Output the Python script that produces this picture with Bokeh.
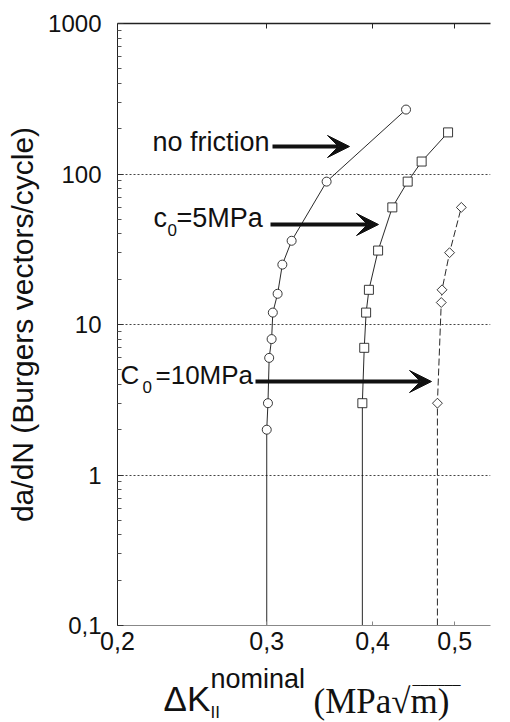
import math
from bokeh.plotting import figure
from bokeh.layouts import column
from bokeh.models import (Label, Arrow, VeeHead, FixedTicker, Range1d,
                          CustomJSTickFormatter, LogAxis)
from bokeh.embed import file_html
from bokeh.resources import INLINE

# ---------------- data ----------------
nofric_x = [0.300, 0.301, 0.302, 0.304, 0.305, 0.309, 0.313, 0.321, 0.353, 0.438]
nofric_y = [2, 3, 6, 8, 12, 16, 25, 36, 89, 268]

c5_x = [0.389, 0.391, 0.393, 0.396, 0.406, 0.422, 0.440, 0.457, 0.491]
c5_y = [3, 7, 12, 17, 31, 60, 89, 121, 189]

c10_x = [0.477, 0.482, 0.483, 0.493, 0.509]
c10_y = [3, 14, 17, 30, 60]

thresholds = [0.300, 0.389, 0.477]   # vertical asymptotes of the curves
floor_y = 0.1

x_ticks = [0.2, 0.3, 0.4, 0.5]
y_ticks = [0.1, 1, 10, 100, 1000]
y_minor = [m * 10 ** k for k in range(-1, 3) for m in range(2, 10)]
grid_ticks = [1, 10, 100]

x_start, x_end = 0.2, 0.551
y_start, y_end = 0.1, 1000

W = 510
H_MAIN = 665
H_TITLE = 57
FRAME_TOP, FRAME_BOTTOM, FRAME_LEFT, FRAME_RIGHT = 23, 625, 117, 490

# ---------------- figure ----------------
p = figure(width=W, height=H_MAIN, x_axis_type="log", y_axis_type="log",
           x_range=(x_start, x_end), y_range=(y_start, y_end),
           output_backend="svg", toolbar_location=None, title=None,
           min_border_left=FRAME_LEFT, min_border_right=W - FRAME_RIGHT,
           min_border_top=FRAME_TOP, min_border_bottom=H_MAIN - FRAME_BOTTOM)
p.outline_line_color = None
p.background_fill_color = "white"
p.border_fill_color = "white"

fmt = CustomJSTickFormatter(code="return tick.toString().replace('.', ',');")

# left axis
ya = p.yaxis[0]
ya.ticker = FixedTicker(ticks=y_ticks, minor_ticks=y_minor)
ya.formatter = fmt
ya.major_label_text_font = "Liberation Sans"
ya.major_label_text_font_size = "24px"
ya.major_label_text_color = "#111"
ya.major_label_standoff = 16
ya.major_tick_in = 6
ya.major_tick_out = 0
ya.minor_tick_in = 4
ya.minor_tick_out = 0
ya.axis_line_color = "#222"
ya.axis_line_width = 1
ya.major_tick_line_color = "#333"
ya.minor_tick_line_color = "#555"
ya.axis_label = "da/dN (Burgers vectors/cycle)"
ya.axis_label_text_font = "Liberation Sans"
ya.axis_label_text_font_size = "30px"
ya.axis_label_text_font_style = "normal"
ya.axis_label_text_color = "#111"
ya.axis_label_standoff = 6

# bottom axis
xa = p.xaxis[0]
xa.ticker = FixedTicker(ticks=x_ticks, minor_ticks=[])
xa.formatter = fmt
xa.major_label_text_font = "Liberation Sans"
xa.major_label_text_font_size = "25px"
xa.major_label_text_color = "#111"
xa.major_label_standoff = 6
xa.major_tick_in = 4
xa.major_tick_out = 0
xa.minor_tick_line_color = None
xa.axis_line_color = "#888"
xa.major_tick_line_color = "#888"

# top axis (frame line with inward ticks)
top = LogAxis(ticker=FixedTicker(ticks=x_ticks[1:], minor_ticks=[]),
              major_label_text_font_size="0px", major_tick_in=5,
              major_tick_out=0, minor_tick_line_color=None,
              axis_line_color="#222", axis_line_width=1.3,
              major_tick_line_color="#222")
top.major_label_text_color = None
p.add_layout(top, "above")

# grid
p.xgrid.grid_line_color = None
p.ygrid.ticker = FixedTicker(ticks=grid_ticks)
p.ygrid.grid_line_color = "#444"
p.ygrid.grid_line_dash = "2 2"
p.ygrid.grid_line_width = 1

# ---------------- curves ----------------
series = [
    (nofric_x, nofric_y, thresholds[0], "circle", 9, 0.0, "solid"),
    (c5_x, c5_y, thresholds[1], "square", 9, 0.0, "solid"),
    (c10_x, c10_y, thresholds[2], "square", 7, math.pi / 4, "7 3"),
]
for xs, ys, thr, mk, sz, ang, dash in series:
    p.line([thr] + xs, [floor_y] + ys, line_color="#111", line_width=0.9,
           line_dash=dash)
    p.scatter(xs, ys, marker=mk, size=sz, angle=ang, fill_color="white",
              line_color="#222", line_width=0.9)

# ---------------- annotations (page pixel -> data) ----------------
PXD = (FRAME_RIGHT - FRAME_LEFT) / math.log10(x_end / x_start)
PYD = (FRAME_BOTTOM - FRAME_TOP) / math.log10(y_end / y_start)
BASE_SHIFT = 0.34   # rendered alphabetic baseline sits ~0.34 em low


def dx(px):
    return x_start * 10 ** ((px - FRAME_LEFT) / PXD)


def dy(py):
    return y_end * 10 ** (-(py - FRAME_TOP) / PYD)


def lab(fig, px, py, text, size, font="Liberation Sans", main=True):
    py = py - BASE_SHIFT * size
    x, y = (dx(px), dy(py)) if main else (px, py)
    fig.add_layout(Label(x=x, y=y, text=text, text_font=font,
                         text_font_size=f"{size}px", text_color="#111",
                         text_align="left", text_baseline="alphabetic"))


lab(p, 152, 151, "no friction", 27)
lab(p, 153, 227, "c", 27)
lab(p, 167, 235, "0", 17)
lab(p, 176, 227, "=5MPa", 27)
lab(p, 120, 383, "C", 26)
lab(p, 142, 392, "0", 17)
lab(p, 155, 383, "=10MPa", 26)

for (x1, x2, yy) in [(272, 349, 146), (270, 378, 224), (255, 431, 381)]:
    p.add_layout(Arrow(end=VeeHead(size=22, fill_color="#111", line_color="#111"),
                       x_start=dx(x1), y_start=dy(yy), x_end=dx(x2), y_end=dy(yy),
                       line_width=4, line_color="#111"))

# ---------------- x-axis title strip (page pixel coordinates) ----------------
# the strip's frame is aligned with the main frame, so its x range spans the
# same page pixels as that frame
t = figure(width=W, height=H_TITLE, x_range=Range1d(FRAME_LEFT, FRAME_RIGHT),
           y_range=Range1d(H_MAIN + H_TITLE, H_MAIN), title=None,
           output_backend="svg", toolbar_location=None,
           x_axis_location=None, y_axis_location=None,
           min_border=0, min_border_left=FRAME_LEFT,
           min_border_right=W - FRAME_RIGHT,
           min_border_top=0, min_border_bottom=0)
t.outline_line_color = None
t.xgrid.visible = False
t.ygrid.visible = False

lab(t, 163, 710, "\u0394K", 35, main=False)
lab(t, 210, 688, "nominal", 27, main=False)
lab(t, 210, 718, "II", 17, main=False)
lab(t, 313, 713, "(MPa\u221am)", 35, font="Liberation Serif", main=False)
lab(t, 412, 683, "______", 16, font="Liberation Serif", main=False)

layout = column(p, t, spacing=0)
open("out.html", "w").write(file_html(layout, INLINE))
